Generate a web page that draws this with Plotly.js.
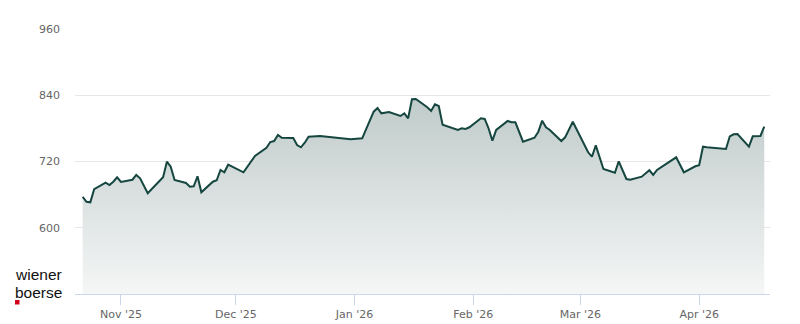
<!DOCTYPE html>
<html>
<head>
<meta charset="utf-8">
<script src="https://cdn.plot.ly/plotly-3.0.1.min.js"></script>
<style>html,body{margin:0;padding:0;background:#fff;}#chart{width:800px;height:324px;}</style>
</head>
<body>
<div id="chart"></div>
<script>
const dates = [
 '2025-10-22','2025-10-23','2025-10-24','2025-10-25','2025-10-28','2025-10-29','2025-10-30','2025-10-31',
 '2025-11-01','2025-11-04','2025-11-05','2025-11-06','2025-11-08','2025-11-12','2025-11-13','2025-11-14',
 '2025-11-15','2025-11-18','2025-11-19','2025-11-20','2025-11-21','2025-11-22','2025-11-25','2025-11-26',
 '2025-11-27','2025-11-28','2025-11-29','2025-12-03','2025-12-06','2025-12-09','2025-12-10','2025-12-11',
 '2025-12-12','2025-12-13','2025-12-16','2025-12-17','2025-12-18','2025-12-19','2025-12-20','2025-12-23',
 '2025-12-31','2026-01-03','2026-01-06','2026-01-07','2026-01-08','2026-01-10','2026-01-13','2026-01-14',
 '2026-01-15','2026-01-16','2026-01-17','2026-01-20','2026-01-21','2026-01-22','2026-01-23','2026-01-24',
 '2026-01-28','2026-01-29','2026-01-30','2026-01-31','2026-02-03','2026-02-04','2026-02-05','2026-02-06',
 '2026-02-07','2026-02-10','2026-02-11','2026-02-12','2026-02-14','2026-02-17','2026-02-18','2026-02-19',
 '2026-02-20','2026-02-21','2026-02-24','2026-02-25','2026-02-27','2026-03-03','2026-03-04','2026-03-05',
 '2026-03-07','2026-03-10','2026-03-11','2026-03-13','2026-03-14','2026-03-17','2026-03-19','2026-03-20',
 '2026-03-21','2026-03-26','2026-03-28','2026-03-31','2026-04-01','2026-04-02','2026-04-03','2026-04-08',
 '2026-04-09','2026-04-10','2026-04-11','2026-04-14','2026-04-15','2026-04-17','2026-04-18'
];
const prices = [
 656,647,646,670,681.6,677.4,683.4,691.4,
 682.9,687,695.6,689.6,662.4,691.4,719.6,710.6,
 686.5,681.1,674.4,675.1,693.2,664.2,683.4,686,
 704.6,700.4,714.2,700.4,730,745,755.3,757.1,
 768,763.1,762.6,749.9,745.7,754.1,764.9,766.2,
 760.2,762,810.2,816.9,807.3,809.7,802.4,807.3,
 798.3,832.7,833.2,818.2,811.5,823.6,820.5,786.7,
 777.1,780.1,778.9,782,798.3,797,780.1,757.7,
 777.1,793.4,791,791,755.9,763.1,774,793.9,
 781.9,777.1,757.1,763.8,792.1,736.7,728.7,749.3,
 706.4,699.7,720.4,688.3,687,692.5,704.1,695.6,
 704.6,727.6,700.4,711.3,713.1,746.8,745.7,742.6,
 765.6,769.3,769.8,746.8,765.6,766.2,783
];
const yTicks = [600, 720, 840, 960];
const xTickVals = ['2025-11-01','2025-12-01','2026-01-01','2026-02-01','2026-03-01','2026-04-01'];
const xTickText = ["Nov '25","Dec '25","Jan '26","Feb '26","Mar '26","Apr '26"];

const L = 75, R = 30, T = 29, B = 30, W = 800, H = 324;
const pw = W - L - R, ph = H - T - B;
const px = v => (v - L) / pw;
const py = v => (H - B - v) / ph;

const trace = {
  x: dates, y: prices, type: 'scatter', mode: 'lines',
  line: {color: '#15463f', width: 2},
  fill: 'tozeroy',
  fillgradient: {type: 'vertical', start: 480, stop: 850,
    colorscale: [[0, '#f5f6f6'], [1, '#bdc9c8']]},
  hoverinfo: 'x+y'
};

const logoFont = {family: '"Liberation Sans", Arial, sans-serif', size: 15.5, color: '#111111'};

const layout = {
  width: W, height: H,
  margin: {l: L, r: R, t: T, b: B, pad: 0},
  paper_bgcolor: '#ffffff', plot_bgcolor: '#ffffff',
  showlegend: false,
  font: {family: '"DejaVu Sans", sans-serif', size: 11, color: '#666666'},
  xaxis: {
    type: 'date', range: ['2025-10-20', '2026-04-19 12:00'],
    tickvals: xTickVals, ticktext: xTickText,
    showgrid: false, zeroline: false,
    showline: true, linecolor: '#ccd6eb', linewidth: 1,
    ticks: 'outside', ticklen: 10, tickcolor: '#ccd6eb', tickwidth: 1,
    tickfont: {size: 11, color: '#666666'}, fixedrange: true
  },
  yaxis: {
    range: [480, 960], tickvals: yTicks,
    showgrid: true, gridcolor: '#e6e6e6', gridwidth: 1,
    zeroline: false, showline: false, ticks: '',
    ticklabelstandoff: 14,
    tickfont: {size: 11, color: '#666666'}, fixedrange: true
  },
  annotations: [
    {xref: 'paper', yref: 'paper', x: px(14), y: py(274.3), xanchor: 'left', yanchor: 'middle',
     text: 'wiener', showarrow: false, borderpad: 0, font: logoFont},
    {xref: 'paper', yref: 'paper', x: px(14), y: py(292), xanchor: 'left', yanchor: 'middle',
     text: 'boerse', showarrow: false, borderpad: 0, font: logoFont}
  ],
  shapes: [
    {type: 'rect', xref: 'paper', yref: 'paper', x0: px(15), x1: px(19.5), y0: py(304.5), y1: py(300),
     fillcolor: '#d0021b', line: {width: 0}}
  ]
};

Plotly.newPlot('chart', [trace], layout, {displayModeBar: false, staticPlot: true});
</script>
</body>
</html>
